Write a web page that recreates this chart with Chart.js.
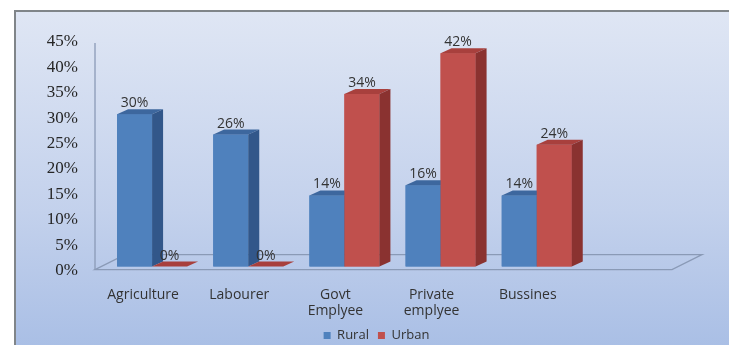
<!DOCTYPE html>
<html>
<head>
<meta charset="utf-8">
<script src="https://cdn.jsdelivr.net/npm/chart.js@4/dist/chart.umd.min.js"></script>
<style>
  html, body { margin: 0; padding: 0; background: #fff; overflow: hidden; }
  #frame {
    position: absolute; left: 14px; top: 10px; width: 760px; height: 400px;
    border-top: 2px solid #808589; border-left: 2px solid #808589;
    background: linear-gradient(to bottom, #dfe6f4 0%, #c3d1ec 50%, #9db6e2 100%);
  }
  #wrap { position: absolute; left: 0; top: 0; width: 729px; height: 352px; }
</style>
</head>
<body>
<div id="frame"></div>
<div id="wrap"><canvas id="chart" width="729" height="352"></canvas></div>
<script>
// values (percent)
const categories = ['Agriculture', 'Labourer', ['Govt', 'Emplyee'], ['Private', 'emplyee'], 'Bussines', ''];
const rural = [30, 26, 14, 16, 14, null];
const urban = [0, 0, 34, 42, 24, null];
const yTicks = [0, 5, 10, 15, 20, 25, 30, 35, 40, 45];

const faces = [
	{ front: '#4f81bd', top: '#3d679e', side: '#32578a' },
	{ front: '#c0504d', top: '#a8403d', side: '#8a3230' }
];
const dx = 11, dy = -5;
const serif = '17px "Liberation Serif"';

let bars3d = {
	id: 'bars3d',
	beforeDraw(chart) {
		// first use of the serif face on this canvas, off screen
		let ctx = chart.ctx;
		ctx.save();
		ctx.font = serif;
		ctx.fillText('0123456789%', -500, -500);
		ctx.restore();
	},
	beforeDatasetsDraw(chart) {
		let ctx = chart.ctx;
		let area = chart.chartArea;
		let zero = chart.scales.y.getPixelForValue(0);
		let top = chart.scales.y.getPixelForValue(45);
		ctx.save();
		ctx.strokeStyle = '#8a9ab6';
		ctx.lineWidth = 1.3;
		// y axis (front left edge)
		ctx.beginPath();
		ctx.moveTo(area.left - 9, top + 5);
		ctx.lineTo(area.left - 9, zero + 3);
		ctx.stroke();
		// floor
		ctx.beginPath();
		ctx.moveTo(area.left - 9, zero + 3);
		ctx.lineTo(area.right - 9, zero + 3);
		ctx.lineTo(area.right + 21, zero - 12);
		ctx.lineTo(area.left + 21, zero - 12);
		ctx.closePath();
		ctx.stroke();
		ctx.restore();
	},
	afterDatasetsDraw(chart) {
		let ctx = chart.ctx;
		let area = chart.chartArea;
		let yScale = chart.scales.y;
		ctx.save();
		for (let i = 0; i < categories.length; i++) {
			chart.data.datasets.forEach((ds, d) => {
				if (ds.data[i] == null) return;
				let bar = chart.getDatasetMeta(d).data[i];
				let p = bar.getProps(['x', 'y', 'base', 'width'], true);
				let l = p.x - p.width / 2, r = p.x + p.width / 2;
				let c = faces[d];
				ctx.fillStyle = c.front;
				ctx.fillRect(l, p.y, p.width, p.base - p.y);
				ctx.fillStyle = c.top;
				ctx.beginPath();
				ctx.moveTo(l, p.y); ctx.lineTo(l + dx, p.y + dy); ctx.lineTo(r + dx, p.y + dy); ctx.lineTo(r, p.y);
				ctx.closePath(); ctx.fill();
				ctx.fillStyle = c.side;
				ctx.beginPath();
				ctx.moveTo(r, p.y); ctx.lineTo(r + dx, p.y + dy); ctx.lineTo(r + dx, p.base + dy); ctx.lineTo(r, p.base);
				ctx.closePath(); ctx.fill();
			});
		}
		// data labels
		ctx.font = '14px "Open Sans"';
		ctx.fillStyle = '#333';
		ctx.textAlign = 'center';
		ctx.textBaseline = 'middle';
		for (let i = 0; i < categories.length; i++) {
			chart.data.datasets.forEach((ds, d) => {
				if (ds.data[i] == null) return;
				let bar = chart.getDatasetMeta(d).data[i];
				ctx.fillText(ds.data[i] + '%', bar.x, bar.y - 11);
			});
		}
		// y tick labels, serif like the original
		ctx.font = serif;
		ctx.fillStyle = '#262626';
		ctx.textAlign = 'right';
		yScale.ticks.forEach(t => {
			ctx.fillText(t.value + '%', area.left - 26, yScale.getPixelForValue(t.value) + 4);
		});
		ctx.restore();
	}
};

let config = {
	type: 'bar',
	data: {
		labels: categories,
		datasets: [
			{ label: 'Rural', data: rural, backgroundColor: faces[0].front },
			{ label: 'Urban', data: urban, backgroundColor: faces[1].front }
		]
	},
	options: {
		responsive: false,
		animation: false,
		categoryPercentage: 0.728,
		barPercentage: 1,
		layout: { padding: { left: 24, right: 0, top: 38, bottom: 0 } },
		scales: {
			x: {
				grid: { display: false, drawTicks: false },
				border: { display: false },
				ticks: { font: { family: 'Open Sans', size: 14, lineHeight: 1.12 }, color: '#333', padding: 21, labelOffset: -9, maxRotation: 0, autoSkip: false },
				afterFit: s => { s.height = 53.4; }
			},
			y: {
				min: 0, max: 45,
				afterBuildTicks: s => { s.ticks = yTicks.map(v => ({ value: v })); },
				grid: { display: false, drawTicks: false },
				border: { display: false },
				ticks: { display: false },
				afterFit: s => { s.width = 80; }
			},
			y2: {
				position: 'right',
				grid: { display: false, drawTicks: false },
				border: { display: false },
				ticks: { display: false },
				afterFit: s => { s.width = 48; }
			}
		},
		plugins: {
			legend: {
				position: 'bottom',
				labels: { boxWidth: 7, boxHeight: 7, padding: 9, color: '#333', font: { family: 'Open Sans', size: 13 } }
			},
			tooltip: { enabled: false }
		}
	},
	plugins: [bars3d]
};

let myChart = new Chart(document.getElementById('chart'), config);
</script>
</body>
</html>
